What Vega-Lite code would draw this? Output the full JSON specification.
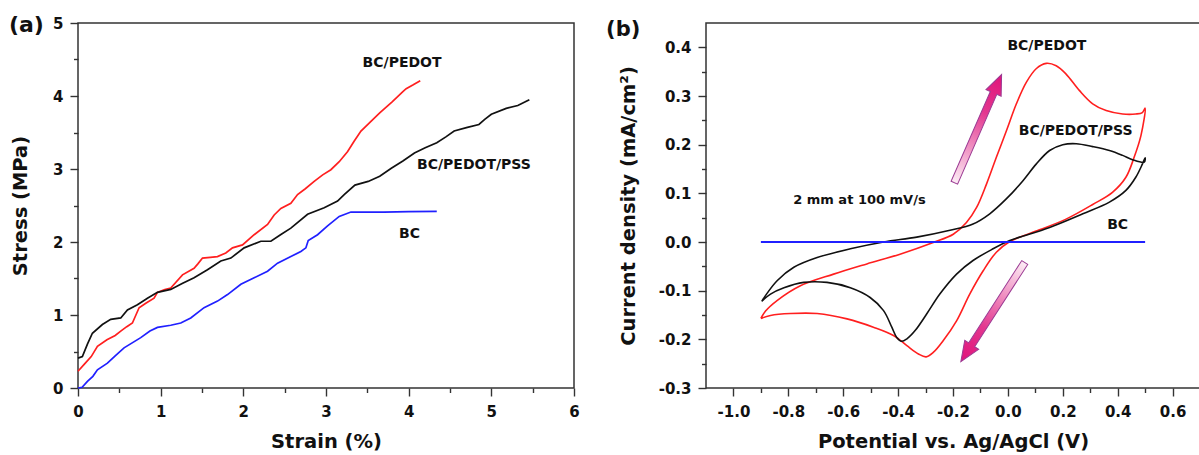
{
  "$schema": "https://vega.github.io/schema/vega-lite/v6.json",
  "padding": {"left": 8, "top": 12, "right": 0, "bottom": 0},
  "autosize": {"type": "pad"},
  "bounds": "flush",
  "spacing": 132,
  "config": {
    "font": "DejaVu Sans",
    "view": {"stroke": "#333333", "strokeWidth": 1.5},
    "locale": {"number": {"decimal": ".", "thousands": ",", "grouping": [3], "currency": ["$", ""], "minus": "-"}},
    "axis": {
      "domain": false, "grid": false,
      "tickColor": "#333333", "tickWidth": 1.4, "tickSize": 8,
      "labelFont": "DejaVu Sans", "labelFontWeight": "bold", "labelFontSize": 15, "labelColor": "#111111",
      "labelFlush": false, "labelOverlap": false, "labelBound": false,
      "titleFont": "DejaVu Sans", "titleFontWeight": "bold", "titleFontSize": 19.5, "titleColor": "#111111"
    },
    "axisX": {"labelPadding": 8, "titlePadding": 13},
    "axisY": {"labelPadding": 7},
    "text": {"font": "DejaVu Sans", "fontWeight": "bold", "color": "#111111"}
  },
  "hconcat": [
    {
      "width": 496,
      "height": 365,
      "resolve": {"axis": {"x": "independent", "y": "independent"}},
      "layer": [
        {
          "data": {"values": [
            {"sample": "BC/PEDOT", "strain": 0, "stress": 0.23},
            {"sample": "BC/PEDOT", "strain": 0.08, "stress": 0.33},
            {"sample": "BC/PEDOT", "strain": 0.16, "stress": 0.43},
            {"sample": "BC/PEDOT", "strain": 0.235, "stress": 0.57},
            {"sample": "BC/PEDOT", "strain": 0.35, "stress": 0.66},
            {"sample": "BC/PEDOT", "strain": 0.45, "stress": 0.72},
            {"sample": "BC/PEDOT", "strain": 0.517, "stress": 0.78},
            {"sample": "BC/PEDOT", "strain": 0.59, "stress": 0.84},
            {"sample": "BC/PEDOT", "strain": 0.658, "stress": 0.89},
            {"sample": "BC/PEDOT", "strain": 0.739, "stress": 1.1},
            {"sample": "BC/PEDOT", "strain": 0.82, "stress": 1.16},
            {"sample": "BC/PEDOT", "strain": 0.92, "stress": 1.23},
            {"sample": "BC/PEDOT", "strain": 0.961, "stress": 1.31},
            {"sample": "BC/PEDOT", "strain": 1.05, "stress": 1.35},
            {"sample": "BC/PEDOT", "strain": 1.122, "stress": 1.37},
            {"sample": "BC/PEDOT", "strain": 1.264, "stress": 1.55},
            {"sample": "BC/PEDOT", "strain": 1.404, "stress": 1.64},
            {"sample": "BC/PEDOT", "strain": 1.45, "stress": 1.7},
            {"sample": "BC/PEDOT", "strain": 1.506, "stress": 1.78},
            {"sample": "BC/PEDOT", "strain": 1.6, "stress": 1.79},
            {"sample": "BC/PEDOT", "strain": 1.687, "stress": 1.8},
            {"sample": "BC/PEDOT", "strain": 1.788, "stress": 1.85},
            {"sample": "BC/PEDOT", "strain": 1.869, "stress": 1.92},
            {"sample": "BC/PEDOT", "strain": 1.99, "stress": 1.96},
            {"sample": "BC/PEDOT", "strain": 2.131, "stress": 2.1},
            {"sample": "BC/PEDOT", "strain": 2.293, "stress": 2.24},
            {"sample": "BC/PEDOT", "strain": 2.373, "stress": 2.37},
            {"sample": "BC/PEDOT", "strain": 2.454, "stress": 2.46},
            {"sample": "BC/PEDOT", "strain": 2.575, "stress": 2.53},
            {"sample": "BC/PEDOT", "strain": 2.656, "stress": 2.65},
            {"sample": "BC/PEDOT", "strain": 2.75, "stress": 2.73},
            {"sample": "BC/PEDOT", "strain": 2.857, "stress": 2.83},
            {"sample": "BC/PEDOT", "strain": 2.96, "stress": 2.92},
            {"sample": "BC/PEDOT", "strain": 3.059, "stress": 2.99},
            {"sample": "BC/PEDOT", "strain": 3.16, "stress": 3.1},
            {"sample": "BC/PEDOT", "strain": 3.262, "stress": 3.24},
            {"sample": "BC/PEDOT", "strain": 3.34, "stress": 3.38},
            {"sample": "BC/PEDOT", "strain": 3.423, "stress": 3.52},
            {"sample": "BC/PEDOT", "strain": 3.55, "stress": 3.66},
            {"sample": "BC/PEDOT", "strain": 3.65, "stress": 3.77},
            {"sample": "BC/PEDOT", "strain": 3.8, "stress": 3.92},
            {"sample": "BC/PEDOT", "strain": 3.93, "stress": 4.06},
            {"sample": "BC/PEDOT", "strain": 3.97, "stress": 4.1},
            {"sample": "BC/PEDOT", "strain": 4.05, "stress": 4.15},
            {"sample": "BC/PEDOT", "strain": 4.14, "stress": 4.21},
            {"sample": "BC/PEDOT/PSS", "strain": 0, "stress": 0.41},
            {"sample": "BC/PEDOT/PSS", "strain": 0.053, "stress": 0.43},
            {"sample": "BC/PEDOT/PSS", "strain": 0.114, "stress": 0.6},
            {"sample": "BC/PEDOT/PSS", "strain": 0.174, "stress": 0.75},
            {"sample": "BC/PEDOT/PSS", "strain": 0.295, "stress": 0.87},
            {"sample": "BC/PEDOT/PSS", "strain": 0.396, "stress": 0.94},
            {"sample": "BC/PEDOT/PSS", "strain": 0.517, "stress": 0.96},
            {"sample": "BC/PEDOT/PSS", "strain": 0.598, "stress": 1.07},
            {"sample": "BC/PEDOT/PSS", "strain": 0.719, "stress": 1.14},
            {"sample": "BC/PEDOT/PSS", "strain": 0.84, "stress": 1.23},
            {"sample": "BC/PEDOT/PSS", "strain": 0.961, "stress": 1.31},
            {"sample": "BC/PEDOT/PSS", "strain": 1.122, "stress": 1.35},
            {"sample": "BC/PEDOT/PSS", "strain": 1.26, "stress": 1.43},
            {"sample": "BC/PEDOT/PSS", "strain": 1.404, "stress": 1.51},
            {"sample": "BC/PEDOT/PSS", "strain": 1.566, "stress": 1.62},
            {"sample": "BC/PEDOT/PSS", "strain": 1.728, "stress": 1.74},
            {"sample": "BC/PEDOT/PSS", "strain": 1.849, "stress": 1.78},
            {"sample": "BC/PEDOT/PSS", "strain": 2.01, "stress": 1.92},
            {"sample": "BC/PEDOT/PSS", "strain": 2.212, "stress": 2.01},
            {"sample": "BC/PEDOT/PSS", "strain": 2.333, "stress": 2.01},
            {"sample": "BC/PEDOT/PSS", "strain": 2.45, "stress": 2.1},
            {"sample": "BC/PEDOT/PSS", "strain": 2.575, "stress": 2.19},
            {"sample": "BC/PEDOT/PSS", "strain": 2.777, "stress": 2.38},
            {"sample": "BC/PEDOT/PSS", "strain": 2.978, "stress": 2.47},
            {"sample": "BC/PEDOT/PSS", "strain": 3.14, "stress": 2.56},
            {"sample": "BC/PEDOT/PSS", "strain": 3.22, "stress": 2.65},
            {"sample": "BC/PEDOT/PSS", "strain": 3.35, "stress": 2.78},
            {"sample": "BC/PEDOT/PSS", "strain": 3.51, "stress": 2.83},
            {"sample": "BC/PEDOT/PSS", "strain": 3.65, "stress": 2.9},
            {"sample": "BC/PEDOT/PSS", "strain": 3.79, "stress": 3.01},
            {"sample": "BC/PEDOT/PSS", "strain": 3.93, "stress": 3.11},
            {"sample": "BC/PEDOT/PSS", "strain": 4.07, "stress": 3.22},
            {"sample": "BC/PEDOT/PSS", "strain": 4.2, "stress": 3.29},
            {"sample": "BC/PEDOT/PSS", "strain": 4.34, "stress": 3.36},
            {"sample": "BC/PEDOT/PSS", "strain": 4.45, "stress": 3.44},
            {"sample": "BC/PEDOT/PSS", "strain": 4.55, "stress": 3.52},
            {"sample": "BC/PEDOT/PSS", "strain": 4.71, "stress": 3.57},
            {"sample": "BC/PEDOT/PSS", "strain": 4.85, "stress": 3.61},
            {"sample": "BC/PEDOT/PSS", "strain": 4.92, "stress": 3.68},
            {"sample": "BC/PEDOT/PSS", "strain": 5.0, "stress": 3.75},
            {"sample": "BC/PEDOT/PSS", "strain": 5.18, "stress": 3.83},
            {"sample": "BC/PEDOT/PSS", "strain": 5.32, "stress": 3.87},
            {"sample": "BC/PEDOT/PSS", "strain": 5.46, "stress": 3.95},
            {"sample": "BC", "strain": 0, "stress": 0},
            {"sample": "BC", "strain": 0.05, "stress": 0.01},
            {"sample": "BC", "strain": 0.114, "stress": 0.09},
            {"sample": "BC", "strain": 0.18, "stress": 0.16},
            {"sample": "BC", "strain": 0.235, "stress": 0.25},
            {"sample": "BC", "strain": 0.356, "stress": 0.34},
            {"sample": "BC", "strain": 0.45, "stress": 0.44},
            {"sample": "BC", "strain": 0.557, "stress": 0.55},
            {"sample": "BC", "strain": 0.759, "stress": 0.69},
            {"sample": "BC", "strain": 0.87, "stress": 0.78},
            {"sample": "BC", "strain": 0.961, "stress": 0.83},
            {"sample": "BC", "strain": 1.122, "stress": 0.86},
            {"sample": "BC", "strain": 1.243, "stress": 0.89},
            {"sample": "BC", "strain": 1.364, "stress": 0.96},
            {"sample": "BC", "strain": 1.525, "stress": 1.1},
            {"sample": "BC", "strain": 1.688, "stress": 1.19},
            {"sample": "BC", "strain": 1.809, "stress": 1.28},
            {"sample": "BC", "strain": 1.97, "stress": 1.42},
            {"sample": "BC", "strain": 2.131, "stress": 1.51},
            {"sample": "BC", "strain": 2.293, "stress": 1.6},
            {"sample": "BC", "strain": 2.414, "stress": 1.71},
            {"sample": "BC", "strain": 2.575, "stress": 1.8},
            {"sample": "BC", "strain": 2.696, "stress": 1.87},
            {"sample": "BC", "strain": 2.757, "stress": 1.92},
            {"sample": "BC", "strain": 2.785, "stress": 2.02},
            {"sample": "BC", "strain": 2.898, "stress": 2.1},
            {"sample": "BC", "strain": 3.019, "stress": 2.22},
            {"sample": "BC", "strain": 3.16, "stress": 2.35},
            {"sample": "BC", "strain": 3.301, "stress": 2.41},
            {"sample": "BC", "strain": 3.423, "stress": 2.41},
            {"sample": "BC", "strain": 3.7, "stress": 2.41},
            {"sample": "BC", "strain": 4.0, "stress": 2.415},
            {"sample": "BC", "strain": 4.34, "stress": 2.42}
          ]},
          "mark": {"type": "line", "strokeWidth": 1.7},
          "encoding": {
            "x": {"field": "strain", "type": "quantitative",
                  "scale": {"domain": [0, 6], "nice": false, "zero": false},
                  "axis": {"orient": "bottom", "values": [0, 1, 2, 3, 4, 5, 6], "title": "Strain (%)"}},
            "y": {"field": "stress", "type": "quantitative",
                  "scale": {"domain": [0, 5], "nice": false, "zero": false},
                  "axis": {"orient": "left", "values": [0, 1, 2, 3, 4, 5], "title": "Stress (MPa)", "titlePadding": 22}},
            "color": {"field": "sample", "type": "nominal",
                      "scale": {"domain": ["BC/PEDOT", "BC/PEDOT/PSS", "BC"], "range": ["#ff1f1f", "#111111", "#2020ff"]},
                      "legend": null}
          }
        },
        {
          "data": {"values": [
            {"label": "BC/PEDOT", "strain": 3.92, "stress": 4.45},
            {"label": "BC/PEDOT/PSS", "strain": 4.79, "stress": 3.05},
            {"label": "BC", "strain": 4.01, "stress": 2.115}
          ]},
          "mark": {"type": "text", "fontSize": 14, "baseline": "middle"},
          "encoding": {
            "x": {"field": "strain", "type": "quantitative",
                  "scale": {"domain": [0, 6], "nice": false, "zero": false},
                  "axis": {"orient": "bottom", "values": [0.5, 1.5, 2.5, 3.5, 4.5, 5.5], "tickSize": 4.5, "labels": false, "title": null}},
            "y": {"field": "stress", "type": "quantitative",
                  "scale": {"domain": [0, 5], "nice": false, "zero": false},
                  "axis": {"orient": "left", "values": [0.5, 1.5, 2.5, 3.5, 4.5], "tickSize": 4.5, "labels": false, "title": null}},
            "text": {"field": "label"}
          }
        },
        {
          "data": {"values": [{"tag": "(a)", "strain": -0.835, "stress": 4.978}]},
          "mark": {"type": "text", "fontSize": 22, "align": "left", "baseline": "middle"},
          "encoding": {
            "x": {"field": "strain", "type": "quantitative", "scale": {"domain": [0, 6], "nice": false, "zero": false}, "axis": null},
            "y": {"field": "stress", "type": "quantitative", "scale": {"domain": [0, 5], "nice": false, "zero": false}, "axis": null},
            "text": {"field": "tag"}
          }
        }
      ]
    },
    {
      "width": 494,
      "height": 365,
      "resolve": {"axis": {"x": "independent", "y": "independent"}},
      "layer": [
        {
          "data": {"values": [
            {"sample": "BC/PEDOT", "i": 1, "potential": -0.9, "current": -0.157},
            {"sample": "BC/PEDOT", "i": 2, "potential": -0.883, "current": -0.142},
            {"sample": "BC/PEDOT", "i": 3, "potential": -0.84, "current": -0.12},
            {"sample": "BC/PEDOT", "i": 4, "potential": -0.756, "current": -0.09},
            {"sample": "BC/PEDOT", "i": 5, "potential": -0.635, "current": -0.066},
            {"sample": "BC/PEDOT", "i": 6, "potential": -0.514, "current": -0.045},
            {"sample": "BC/PEDOT", "i": 7, "potential": -0.393, "current": -0.025},
            {"sample": "BC/PEDOT", "i": 8, "potential": -0.272, "current": -0.001},
            {"sample": "BC/PEDOT", "i": 9, "potential": -0.199, "current": 0.016},
            {"sample": "BC/PEDOT", "i": 10, "potential": -0.151, "current": 0.04},
            {"sample": "BC/PEDOT", "i": 11, "potential": -0.114, "current": 0.071},
            {"sample": "BC/PEDOT", "i": 12, "potential": -0.078, "current": 0.119},
            {"sample": "BC/PEDOT", "i": 13, "potential": -0.042, "current": 0.174},
            {"sample": "BC/PEDOT", "i": 14, "potential": -0.005, "current": 0.229},
            {"sample": "BC/PEDOT", "i": 15, "potential": 0.031, "current": 0.284},
            {"sample": "BC/PEDOT", "i": 16, "potential": 0.067, "current": 0.328},
            {"sample": "BC/PEDOT", "i": 17, "potential": 0.103, "current": 0.356},
            {"sample": "BC/PEDOT", "i": 18, "potential": 0.14, "current": 0.367},
            {"sample": "BC/PEDOT", "i": 19, "potential": 0.176, "current": 0.362},
            {"sample": "BC/PEDOT", "i": 20, "potential": 0.212, "current": 0.345},
            {"sample": "BC/PEDOT", "i": 21, "potential": 0.261, "current": 0.311},
            {"sample": "BC/PEDOT", "i": 22, "potential": 0.309, "current": 0.284},
            {"sample": "BC/PEDOT", "i": 23, "potential": 0.358, "current": 0.27},
            {"sample": "BC/PEDOT", "i": 24, "potential": 0.418, "current": 0.263},
            {"sample": "BC/PEDOT", "i": 25, "potential": 0.466, "current": 0.263},
            {"sample": "BC/PEDOT", "i": 26, "potential": 0.49, "current": 0.266},
            {"sample": "BC/PEDOT", "i": 27, "potential": 0.5, "current": 0.275},
            {"sample": "BC/PEDOT", "i": 28, "potential": 0.485, "current": 0.219},
            {"sample": "BC/PEDOT", "i": 29, "potential": 0.46, "current": 0.174},
            {"sample": "BC/PEDOT", "i": 30, "potential": 0.43, "current": 0.133},
            {"sample": "BC/PEDOT", "i": 31, "potential": 0.381, "current": 0.102},
            {"sample": "BC/PEDOT", "i": 32, "potential": 0.309, "current": 0.077},
            {"sample": "BC/PEDOT", "i": 33, "potential": 0.212, "current": 0.047},
            {"sample": "BC/PEDOT", "i": 34, "potential": 0.115, "current": 0.025},
            {"sample": "BC/PEDOT", "i": 35, "potential": 0.043, "current": 0.01},
            {"sample": "BC/PEDOT", "i": 36, "potential": 0.007, "current": 0.001},
            {"sample": "BC/PEDOT", "i": 37, "potential": -0.042, "current": -0.021},
            {"sample": "BC/PEDOT", "i": 38, "potential": -0.09, "current": -0.059},
            {"sample": "BC/PEDOT", "i": 39, "potential": -0.139, "current": -0.107},
            {"sample": "BC/PEDOT", "i": 40, "potential": -0.187, "current": -0.162},
            {"sample": "BC/PEDOT", "i": 41, "potential": -0.236, "current": -0.203},
            {"sample": "BC/PEDOT", "i": 42, "potential": -0.272, "current": -0.227},
            {"sample": "BC/PEDOT", "i": 43, "potential": -0.298, "current": -0.236},
            {"sample": "BC/PEDOT", "i": 44, "potential": -0.326, "current": -0.23},
            {"sample": "BC/PEDOT", "i": 45, "potential": -0.368, "current": -0.213},
            {"sample": "BC/PEDOT", "i": 46, "potential": -0.417, "current": -0.192},
            {"sample": "BC/PEDOT", "i": 47, "potential": -0.49, "current": -0.175},
            {"sample": "BC/PEDOT", "i": 48, "potential": -0.586, "current": -0.158},
            {"sample": "BC/PEDOT", "i": 49, "potential": -0.695, "current": -0.147},
            {"sample": "BC/PEDOT", "i": 50, "potential": -0.792, "current": -0.147},
            {"sample": "BC/PEDOT", "i": 51, "potential": -0.865, "current": -0.151},
            {"sample": "BC/PEDOT", "i": 52, "potential": -0.9, "current": -0.157},
            {"sample": "BC/PEDOT/PSS", "i": 1, "potential": -0.897, "current": -0.122},
            {"sample": "BC/PEDOT/PSS", "i": 2, "potential": -0.877, "current": -0.105},
            {"sample": "BC/PEDOT/PSS", "i": 3, "potential": -0.84, "current": -0.079},
            {"sample": "BC/PEDOT/PSS", "i": 4, "potential": -0.78, "current": -0.052},
            {"sample": "BC/PEDOT/PSS", "i": 5, "potential": -0.695, "current": -0.032},
            {"sample": "BC/PEDOT/PSS", "i": 6, "potential": -0.574, "current": -0.014},
            {"sample": "BC/PEDOT/PSS", "i": 7, "potential": -0.453, "current": 0.0},
            {"sample": "BC/PEDOT/PSS", "i": 8, "potential": -0.332, "current": 0.01},
            {"sample": "BC/PEDOT/PSS", "i": 9, "potential": -0.211, "current": 0.024},
            {"sample": "BC/PEDOT/PSS", "i": 10, "potential": -0.127, "current": 0.037},
            {"sample": "BC/PEDOT/PSS", "i": 11, "potential": -0.066, "current": 0.058},
            {"sample": "BC/PEDOT/PSS", "i": 12, "potential": -0.005, "current": 0.089},
            {"sample": "BC/PEDOT/PSS", "i": 13, "potential": 0.055, "current": 0.126},
            {"sample": "BC/PEDOT/PSS", "i": 14, "potential": 0.103, "current": 0.16},
            {"sample": "BC/PEDOT/PSS", "i": 15, "potential": 0.152, "current": 0.188},
            {"sample": "BC/PEDOT/PSS", "i": 16, "potential": 0.2, "current": 0.2},
            {"sample": "BC/PEDOT/PSS", "i": 17, "potential": 0.249, "current": 0.202},
            {"sample": "BC/PEDOT/PSS", "i": 18, "potential": 0.309, "current": 0.196},
            {"sample": "BC/PEDOT/PSS", "i": 19, "potential": 0.37, "current": 0.188},
            {"sample": "BC/PEDOT/PSS", "i": 20, "potential": 0.418, "current": 0.178},
            {"sample": "BC/PEDOT/PSS", "i": 21, "potential": 0.454, "current": 0.169},
            {"sample": "BC/PEDOT/PSS", "i": 22, "potential": 0.497, "current": 0.164},
            {"sample": "BC/PEDOT/PSS", "i": 23, "potential": 0.5, "current": 0.173},
            {"sample": "BC/PEDOT/PSS", "i": 24, "potential": 0.49, "current": 0.16},
            {"sample": "BC/PEDOT/PSS", "i": 25, "potential": 0.466, "current": 0.133},
            {"sample": "BC/PEDOT/PSS", "i": 26, "potential": 0.43, "current": 0.106},
            {"sample": "BC/PEDOT/PSS", "i": 27, "potential": 0.37, "current": 0.082},
            {"sample": "BC/PEDOT/PSS", "i": 28, "potential": 0.273, "current": 0.058},
            {"sample": "BC/PEDOT/PSS", "i": 29, "potential": 0.152, "current": 0.03},
            {"sample": "BC/PEDOT/PSS", "i": 30, "potential": 0.043, "current": 0.01},
            {"sample": "BC/PEDOT/PSS", "i": 31, "potential": 0.007, "current": 0.003},
            {"sample": "BC/PEDOT/PSS", "i": 32, "potential": -0.054, "current": -0.014},
            {"sample": "BC/PEDOT/PSS", "i": 33, "potential": -0.127, "current": -0.038},
            {"sample": "BC/PEDOT/PSS", "i": 34, "potential": -0.187, "current": -0.066},
            {"sample": "BC/PEDOT/PSS", "i": 35, "potential": -0.248, "current": -0.107},
            {"sample": "BC/PEDOT/PSS", "i": 36, "potential": -0.296, "current": -0.148},
            {"sample": "BC/PEDOT/PSS", "i": 37, "potential": -0.338, "current": -0.182},
            {"sample": "BC/PEDOT/PSS", "i": 38, "potential": -0.368, "current": -0.199},
            {"sample": "BC/PEDOT/PSS", "i": 39, "potential": -0.387, "current": -0.204},
            {"sample": "BC/PEDOT/PSS", "i": 40, "potential": -0.405, "current": -0.196},
            {"sample": "BC/PEDOT/PSS", "i": 41, "potential": -0.423, "current": -0.175},
            {"sample": "BC/PEDOT/PSS", "i": 42, "potential": -0.453, "current": -0.141},
            {"sample": "BC/PEDOT/PSS", "i": 43, "potential": -0.502, "current": -0.114},
            {"sample": "BC/PEDOT/PSS", "i": 44, "potential": -0.574, "current": -0.094},
            {"sample": "BC/PEDOT/PSS", "i": 45, "potential": -0.659, "current": -0.083},
            {"sample": "BC/PEDOT/PSS", "i": 46, "potential": -0.744, "current": -0.083},
            {"sample": "BC/PEDOT/PSS", "i": 47, "potential": -0.816, "current": -0.094},
            {"sample": "BC/PEDOT/PSS", "i": 48, "potential": -0.865, "current": -0.107},
            {"sample": "BC/PEDOT/PSS", "i": 49, "potential": -0.897, "current": -0.122}
          ]},
          "mark": {"type": "line", "strokeWidth": 1.6, "interpolate": "catmull-rom"},
          "encoding": {
            "x": {"field": "potential", "type": "quantitative",
                  "scale": {"domain": [-1.1, 0.7], "nice": false, "zero": false},
                  "axis": {"orient": "bottom", "values": [-1.0, -0.8, -0.6, -0.4, -0.2, 0.0, 0.2, 0.4, 0.6], "format": ".1f", "title": "Potential vs. Ag/AgCl (V)"}},
            "y": {"field": "current", "type": "quantitative",
                  "scale": {"domain": [-0.3, 0.45], "nice": false, "zero": false},
                  "axis": {"orient": "left", "values": [-0.3, -0.2, -0.1, 0.0, 0.1, 0.2, 0.3, 0.4], "format": ".1f", "title": "Current density (mA/cm²)", "titlePadding": 20}},
            "color": {"field": "sample", "type": "nominal",
                      "scale": {"domain": ["BC/PEDOT", "BC/PEDOT/PSS", "BC"], "range": ["#ff1f1f", "#111111", "#2020ff"]},
                      "legend": null},
            "order": {"field": "i", "type": "quantitative"}
          }
        },
        {
          "data": {"values": [
            {"sample": "BC", "i": 1, "potential": -0.9, "current": 0.0},
            {"sample": "BC", "i": 2, "potential": 0.5, "current": 0.0}
          ]},
          "mark": {"type": "line", "strokeWidth": 2.2},
          "encoding": {
            "x": {"field": "potential", "type": "quantitative", "scale": {"domain": [-1.1, 0.7], "nice": false, "zero": false}, "axis": null},
            "y": {"field": "current", "type": "quantitative", "scale": {"domain": [-0.3, 0.45], "nice": false, "zero": false}, "axis": null},
            "color": {"field": "sample", "type": "nominal", "legend": null},
            "order": {"field": "i", "type": "quantitative"}
          }
        },
        {
          "data": {"values": [
            {"label": "BC/PEDOT", "potential": 0.142, "current": 0.402},
            {"label": "BC/PEDOT/PSS", "potential": 0.247, "current": 0.229},
            {"label": "BC", "potential": 0.4, "current": 0.034}
          ]},
          "mark": {"type": "text", "fontSize": 14, "baseline": "middle"},
          "encoding": {
            "x": {"field": "potential", "type": "quantitative",
                  "scale": {"domain": [-1.1, 0.7], "nice": false, "zero": false},
                  "axis": {"orient": "bottom", "values": [-0.9, -0.7, -0.5, -0.3, -0.1, 0.1, 0.3, 0.5], "tickSize": 4.5, "labels": false, "title": null}},
            "y": {"field": "current", "type": "quantitative",
                  "scale": {"domain": [-0.3, 0.45], "nice": false, "zero": false},
                  "axis": {"orient": "left", "values": [-0.25, -0.15, -0.05, 0.05, 0.15, 0.25, 0.35], "tickSize": 4.5, "labels": false, "title": null}},
            "text": {"field": "label"}
          }
        },
        {
          "data": {"values": [{"label": "2 mm at 100 mV/s", "potential": -0.541, "current": 0.087}]},
          "mark": {"type": "text", "fontSize": 13, "baseline": "middle"},
          "encoding": {
            "x": {"field": "potential", "type": "quantitative", "scale": {"domain": [-1.1, 0.7], "nice": false, "zero": false}, "axis": null},
            "y": {"field": "current", "type": "quantitative", "scale": {"domain": [-0.3, 0.45], "nice": false, "zero": false}, "axis": null},
            "text": {"field": "label"}
          }
        },
        {
          "data": {"values": [{"tag": "(b)", "potential": -1.464, "current": 0.435}]},
          "mark": {"type": "text", "fontSize": 21, "align": "left", "baseline": "middle"},
          "encoding": {
            "x": {"field": "potential", "type": "quantitative", "scale": {"domain": [-1.1, 0.7], "nice": false, "zero": false}, "axis": null},
            "y": {"field": "current", "type": "quantitative", "scale": {"domain": [-0.3, 0.45], "nice": false, "zero": false}, "axis": null},
            "text": {"field": "tag"}
          }
        },
        {
          "data": {"values": [
            {"sweep": "anodic", "potential": -0.109, "current": 0.233},
            {"sweep": "cathodic", "potential": -0.055, "current": -0.144}
          ]},
          "transform": [{"filter": "datum.sweep === 'anodic'"}],
          "mark": {
            "type": "point",
            "shape": "M -0.06 1 L 0.06 1 L 0.06 -0.66 L 0.14 -0.66 L 0 -1 L -0.14 -0.66 L -0.06 -0.66 Z",
            "size": 13924, "angle": 23.6, "filled": true, "opacity": 1,
            "fill": {"gradient": "linear", "x1": 0, "y1": 0, "x2": 0, "y2": 1,
                     "stops": [{"offset": 0, "color": "#e0137a"}, {"offset": 0.35, "color": "#e3378f"}, {"offset": 1, "color": "#fcecf5"}]},
            "stroke": "#9b3a93", "strokeWidth": 1
          },
          "encoding": {
            "x": {"field": "potential", "type": "quantitative", "scale": {"domain": [-1.1, 0.7], "nice": false, "zero": false}, "axis": null},
            "y": {"field": "current", "type": "quantitative", "scale": {"domain": [-0.3, 0.45], "nice": false, "zero": false}, "axis": null}
          }
        },
        {
          "data": {"values": [
            {"sweep": "anodic", "potential": -0.109, "current": 0.233},
            {"sweep": "cathodic", "potential": -0.055, "current": -0.144}
          ]},
          "transform": [{"filter": "datum.sweep === 'cathodic'"}],
          "mark": {
            "type": "point",
            "shape": "M -0.06 1 L 0.06 1 L 0.06 -0.66 L 0.14 -0.66 L 0 -1 L -0.14 -0.66 L -0.06 -0.66 Z",
            "size": 13924, "angle": 212.8, "filled": true, "opacity": 1,
            "fill": {"gradient": "linear", "x1": 0, "y1": 0, "x2": 0, "y2": 1,
                     "stops": [{"offset": 0, "color": "#e0137a"}, {"offset": 0.35, "color": "#e3378f"}, {"offset": 1, "color": "#fcecf5"}]},
            "stroke": "#9b3a93", "strokeWidth": 1
          },
          "encoding": {
            "x": {"field": "potential", "type": "quantitative", "scale": {"domain": [-1.1, 0.7], "nice": false, "zero": false}, "axis": null},
            "y": {"field": "current", "type": "quantitative", "scale": {"domain": [-0.3, 0.45], "nice": false, "zero": false}, "axis": null}
          }
        }
      ]
    }
  ]
}
